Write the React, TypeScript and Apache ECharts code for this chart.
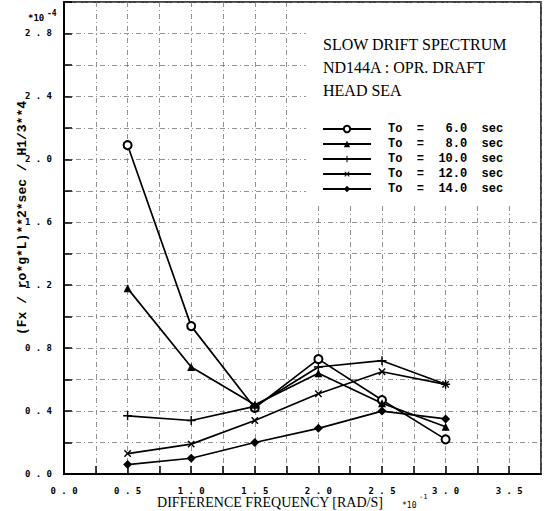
import React, { useEffect, useRef } from "react";
import * as echarts from "echarts";

const xValues = [0.5, 1.0, 1.5, 2.0, 2.5, 3.0];
const t6 = [2.09, 0.94, 0.42, 0.73, 0.47, 0.22];
const t8 = [1.18, 0.68, 0.44, 0.64, 0.45, 0.3];
const t10 = [0.37, 0.34, 0.43, 0.68, 0.72, 0.57];
const t12 = [0.13, 0.19, 0.34, 0.51, 0.65, 0.57];
const t14 = [0.06, 0.1, 0.2, 0.29, 0.4, 0.35];
const seriesNames = [
  "To  =   6.0  sec",
  "To  =   8.0  sec",
  "To  =  10.0  sec",
  "To  =  12.0  sec",
  "To  =  14.0  sec",
];
const titleLines = ["SLOW DRIFT SPECTRUM", "ND144A : OPR. DRAFT", "HEAD SEA"];
const yAxisTitle = "(Fx / ro*g*L)**2*sec / H1/3**4";
const xAxisTitle = "DIFFERENCE FREQUENCY [RAD/S]";

const PLUS = "path://M4.2,0H5.8V4.2H10V5.8H5.8V10H4.2V5.8H0V4.2H4.2Z";

const spaced = (v: number) => v.toFixed(1).split("").join(" ");

export default function App() {
  const ref = useRef<HTMLDivElement>(null);
  useEffect(() => {
    if (!ref.current) return;
    const chart = echarts.init(ref.current, undefined, { renderer: "svg" });
    const lineStyle = { color: "#000", width: 1.7 };
    const mk = (name: string, vals: number[], symbol: string, size: number, extra: any = {}) => ({
      name,
      type: "line",
      data: xValues.map((x, i) => [x, vals[i]]),
      symbol,
      symbolSize: size,
      lineStyle,
      itemStyle: { color: "#000" },
      ...extra,
    });
    const series = [
      mk(seriesNames[0], t6, "emptyCircle", 8, { itemStyle: { color: "#000", borderWidth: 1.8 } }),
      mk(seriesNames[1], t8, "triangle", 8),
      mk(seriesNames[2], t10, PLUS, 9),
      mk(seriesNames[3], t12, PLUS, 9, { symbolRotate: 45 }),
      mk(seriesNames[4], t14, "diamond", 9),
    ];
    const grid = { left: 64, right: 5, top: 2, bottom: 37 };
    chart.setOption({
      animation: false,
      backgroundColor: "#fff",
      grid: { ...grid, show: true, borderColor: "#000", borderWidth: 1.5 },
      legend: {
        orient: "vertical",
        left: 322,
        top: 123,
        padding: 0,
        itemWidth: 48,
        itemHeight: 8,
        itemGap: 3,
        data: seriesNames,
        textStyle: {
          fontFamily: "Liberation Mono",
          fontSize: 12,
          fontWeight: "bold",
          color: "#000",
          padding: [0, 0, 0, 12],
        },
      },
      xAxis: {
        type: "value",
        min: 0,
        max: 3.75,
        interval: 0.25,
        axisLine: { lineStyle: { color: "#000", width: 2 } },
        axisTick: { inside: true, length: 8, lineStyle: { color: "#000", width: 1.5 } },
        axisLabel: {
          margin: 12,
          fontFamily: "DejaVu Sans Mono",
          fontSize: 9,
          fontWeight: "bold",
          color: "#000",
          showMaxLabel: false,
          formatter: (v: number) => (Math.round(v * 100) % 50 === 0 ? spaced(v) : ""),
        },
        splitLine: {
          show: true,
          lineStyle: { color: "#777", width: 0.8, type: [5, 3, 1, 3] },
        },
      },
      yAxis: {
        type: "value",
        min: 0,
        max: 3.0,
        interval: 0.2,
        axisLine: { show: true, lineStyle: { color: "#000", width: 2 } },
        axisTick: { show: true, inside: true, length: 8, lineStyle: { color: "#000", width: 1.5 } },
        axisLabel: {
          margin: 12,
          fontFamily: "DejaVu Sans Mono",
          fontSize: 9,
          fontWeight: "bold",
          color: "#000",
          formatter: (v: number) => (Math.round(v * 10) % 4 === 0 ? spaced(v) : ""),
        },
        splitLine: {
          show: true,
          lineStyle: { color: "#777", width: 0.8, type: [5, 3, 1, 3] },
        },
      },
      graphic: [
        {
          type: "rect",
          z: 1,
          shape: { x: 306, y: 3, width: 233, height: 203 },
          style: { fill: "#fff" },
        },
        ...titleLines.map((t, i) => ({
          type: "text",
          z: 5,
          left: 323,
          top: 36 + i * 23,
          style: {
            text: t,
            font: "16px 'Liberation Serif'",
            fill: "#000",
          },
        })),
        {
          type: "text",
          x: 22,
          y: 218,
          rotation: Math.PI / 2,
          style: {
            text: yAxisTitle,
            font: "bold 13px 'Liberation Mono'",
            fill: "#000",
            align: "center",
            verticalAlign: "middle",
          },
        },
        {
          type: "text",
          x: 28,
          y: 18,
          style: { text: "*10", font: "bold 9px 'DejaVu Sans Mono'", fill: "#000", verticalAlign: "middle" },
        },
        {
          type: "text",
          x: 47,
          y: 13,
          style: { text: "-4", font: "bold 8px 'DejaVu Sans Mono'", fill: "#000", verticalAlign: "middle" },
        },
        {
          type: "text",
          x: 270,
          y: 502,
          style: {
            text: xAxisTitle,
            font: "14px 'Liberation Serif'",
            fill: "#000",
            align: "center",
            verticalAlign: "middle",
          },
        },
        {
          type: "text",
          x: 402,
          y: 505,
          style: { text: "*10", font: "8px 'DejaVu Sans Mono'", fill: "#000", verticalAlign: "middle" },
        },
        {
          type: "text",
          x: 419,
          y: 497,
          style: { text: "-1", font: "7px 'DejaVu Sans Mono'", fill: "#000", verticalAlign: "middle" },
        },
      ],
      series,
    });
    return () => chart.dispose();
  }, []);
  return <div ref={ref} style={{ width: 546, height: 511, position: "absolute", left: 0, top: 0 }} />;
}
